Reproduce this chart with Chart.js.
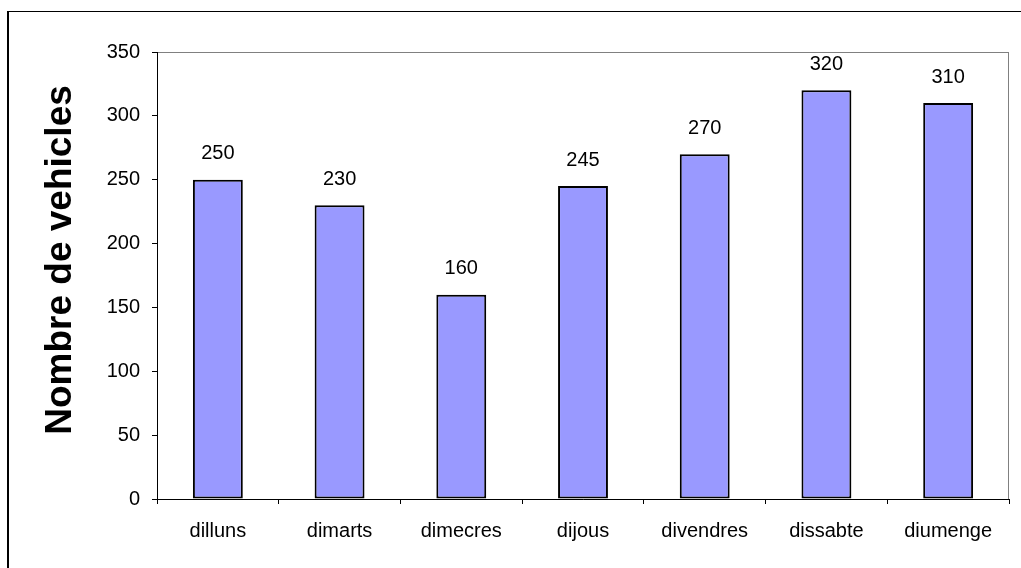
<!DOCTYPE html>
<html>
<head>
<meta charset="utf-8">
<script src="https://cdn.jsdelivr.net/npm/chart.js@4/dist/chart.umd.min.js"></script>
<style>
    html, body { margin: 0; padding: 0; background: #fff; overflow: hidden; }
    #wrap { position: relative; width: 1021px; height: 568px; }
    #frame {
        position: absolute; left: 7px; top: 11px; width: 1100px; height: 700px;
        border-left: 2px solid #000; border-top: 1px solid #000;
    }
    #chart { position: absolute; left: 0; top: 0; }
</style>
</head>
<body>
<div id="wrap">
    <div id="frame"></div>
    <canvas id="chart" width="1021" height="568"></canvas>
</div>
<script>
// Data
const days = ['dilluns', 'dimarts', 'dimecres', 'dijous', 'divendres', 'dissabte', 'diumenge'];
const vehicles = [250, 230, 160, 245, 270, 320, 310];
const yAxisTitle = 'Nombre de vehicles';
const yMin = 0, yMax = 350, yStep = 50;

const FONT = 'Arial, "Liberation Sans", sans-serif';

// Gray plot frame, value labels and rotated axis title
const extras = {
    id: 'extras',
    beforeDraw(chart) {
        const { ctx, chartArea: a } = chart;
        ctx.save();
        ctx.strokeStyle = '#808080';
        ctx.lineWidth = 1;
        ctx.strokeRect(a.left + 0.5, a.top + 0.5, a.right - a.left - 1, a.bottom - a.top);
        ctx.restore();
    },
    afterDraw(chart) {
        const { ctx } = chart;
        const meta = chart.getDatasetMeta(0);
        ctx.save();
        ctx.fillStyle = '#000';
        ctx.font = '20px ' + FONT;
        ctx.textAlign = 'center';
        ctx.textBaseline = 'middle';
        meta.data.forEach((bar, i) => {
            ctx.fillText(vehicles[i], bar.x, bar.y - 26);
        });
        ctx.translate(61, 260);
        ctx.rotate(-Math.PI / 2);
        ctx.font = 'bold 37px ' + FONT;
        ctx.fillText(yAxisTitle, 0, 0);
        ctx.restore();
    }
};

new Chart(document.getElementById('chart'), {
    type: 'bar',
    data: {
        labels: days,
        datasets: [{
            data: vehicles,
            backgroundColor: '#9999FF',
            borderColor: '#000',
            borderWidth: 2,
            borderSkipped: false,
            categoryPercentage: 1,
            barPercentage: 0.41
        }]
    },
    options: {
        responsive: false,
        animation: false,
        events: [],
        layout: { padding: { top: 52, right: 12, left: 0, bottom: 0 } },
        plugins: { legend: { display: false }, tooltip: { enabled: false } },
        scales: {
            x: {
                afterFit(scale) { scale.height = 69; },
                grid: { drawOnChartArea: false, color: '#000', tickLength: 5 },
                border: { color: '#000', width: 1 },
                ticks: { color: '#000', font: { family: FONT, size: 20 }, padding: 15, maxRotation: 0 }
            },
            y: {
                min: yMin,
                max: yMax,
                afterFit(scale) { scale.width = 157; },
                grid: { drawOnChartArea: false, color: '#000', tickLength: 5 },
                border: { color: '#000', width: 1 },
                ticks: { stepSize: yStep, color: '#000', font: { family: FONT, size: 20 }, padding: 12 }
            }
        }
    },
    plugins: [extras]
});
</script>
</body>
</html>
